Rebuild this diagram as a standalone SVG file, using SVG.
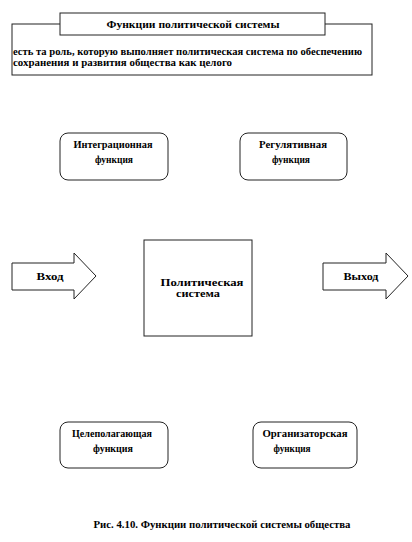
<svg xmlns="http://www.w3.org/2000/svg" width="412" height="542" viewBox="0 0 412 542">
<style>
.b{fill:#fff;stroke:#222;stroke-width:1}
.t{font-family:"Liberation Serif",serif;font-weight:bold;font-size:10px;fill:#000;text-anchor:middle}
.l{font-family:"Liberation Serif",serif;font-weight:bold;font-size:10px;fill:#000}
</style>
<rect width="412" height="542" fill="#fff"/>
<g id="definition">
<rect class="b" x="12" y="24" width="360" height="51"/>
<text class="l" x="13" y="55" textLength="349" lengthAdjust="spacingAndGlyphs">есть та роль, которую выполняет политическая система по обеспечению</text>
<text class="l" x="13" y="66" textLength="219" lengthAdjust="spacingAndGlyphs">сохранения и развития общества как целого</text>
</g>
<g id="title">
<rect class="b" x="60" y="13" width="265" height="22"/>
<text class="t" x="193" y="28" textLength="173" lengthAdjust="spacingAndGlyphs">Функции политической системы</text>
</g>
<g id="integr">
<rect class="b" x="60" y="133" width="108" height="47" rx="8"/>
<text class="t" x="113" y="148" textLength="79" lengthAdjust="spacingAndGlyphs">Интеграционная</text>
<text class="t" x="114" y="163" textLength="38" lengthAdjust="spacingAndGlyphs">функция</text>
</g>
<g id="regul">
<rect class="b" x="240" y="133" width="107" height="47" rx="8"/>
<text class="t" x="293" y="148" textLength="68" lengthAdjust="spacingAndGlyphs">Регулятивная</text>
<text class="t" x="291" y="163" textLength="38" lengthAdjust="spacingAndGlyphs">функция</text>
</g>
<g id="system">
<rect class="b" x="144" y="240" width="108" height="96"/>
<text class="t" x="202" y="286" textLength="83" lengthAdjust="spacingAndGlyphs">Политическая</text>
<text class="t" x="198" y="297" textLength="44" lengthAdjust="spacingAndGlyphs">система</text>
</g>
<g id="input">
<polygon class="b" points="12,263 74,263 74,253 96,276 74,299 74,290 12,290"/>
<text class="t" x="50" y="280" textLength="27" lengthAdjust="spacingAndGlyphs">Вход</text>
</g>
<g id="output">
<polygon class="b" points="323,263 386,263 386,253 408,276 386,299 386,290 323,290"/>
<text class="t" x="361" y="280" textLength="35" lengthAdjust="spacingAndGlyphs">Выход</text>
</g>
<g id="goal">
<rect class="b" x="60" y="422" width="108" height="46" rx="8"/>
<text class="t" x="112" y="437" textLength="80" lengthAdjust="spacingAndGlyphs">Целеполагающая</text>
<text class="t" x="113" y="452" textLength="40" lengthAdjust="spacingAndGlyphs">функция</text>
</g>
<g id="org">
<rect class="b" x="253" y="422" width="104" height="46" rx="8"/>
<text class="t" x="305" y="437" textLength="85" lengthAdjust="spacingAndGlyphs">Организаторская</text>
<text class="t" x="292" y="452" textLength="37" lengthAdjust="spacingAndGlyphs">функция</text>
</g>
<g id="connectors"></g>
<g id="caption">
<text class="t" x="222" y="528" textLength="257" lengthAdjust="spacingAndGlyphs">Рис. 4.10. Функции политической системы общества</text>
</g>
</svg>
